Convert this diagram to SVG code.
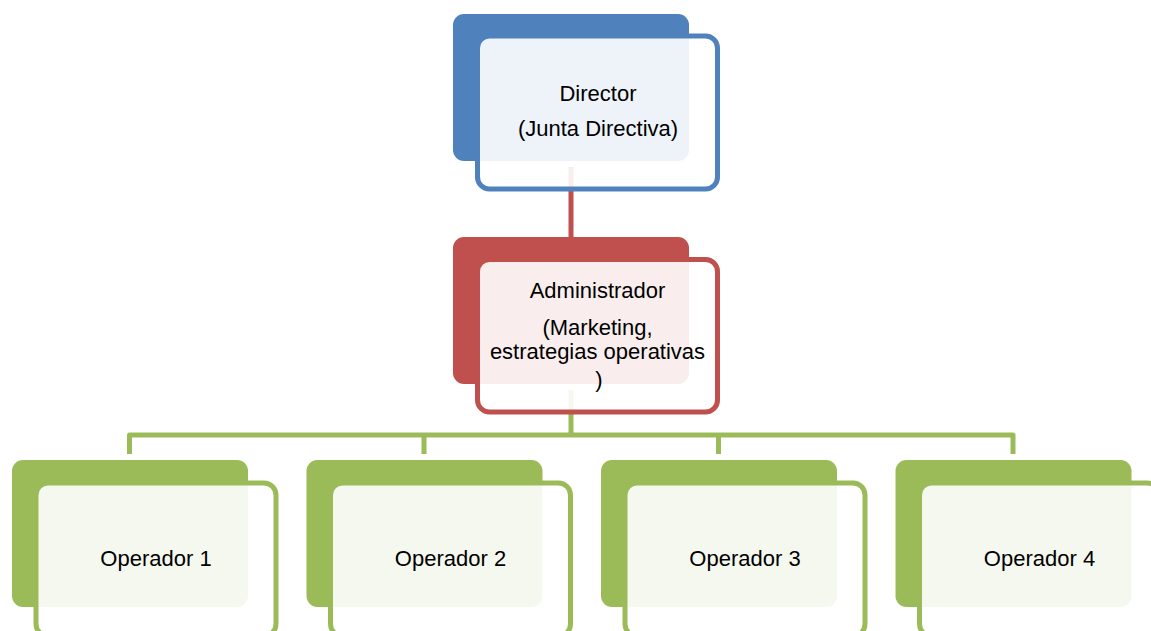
<svg xmlns="http://www.w3.org/2000/svg" width="1151" height="631" viewBox="0 0 1151 631">
<style>
.t{font-family:"Liberation Sans",Arial,sans-serif;font-size:22px;fill:#000;text-anchor:middle}
.front{fill:#fff;fill-opacity:0.9;stroke-width:5}
.conn{fill:none;stroke-width:5;stroke-linejoin:round}
.blue .back{fill:#4F81BD}.blue .front{stroke:#4F81BD}
.red .back{fill:#C0504D}.red .front{stroke:#C0504D}
.green .back{fill:#9BBB59}.green .front{stroke:#9BBB59}
</style>
<rect width="1151" height="631" fill="#fff"/>
<g id="connectors">
<line class="conn" x1="571" y1="167" x2="571" y2="238" stroke="#C0504D"/>
<path class="conn" d="M571,390 V435 M129.5,454 V435 H1013 V454 M424,435 V454 M718.5,435 V454" stroke="#9BBB59"/>
</g>
<g id="director" class="blue">
<rect class="back" x="453" y="14" width="236" height="147" rx="11"/>
<rect class="front" x="477.5" y="36" width="240" height="153" rx="12"/>
<text class="t" x="598" y="101">Director</text>
<text class="t" x="598" y="136">(Junta Directiva)</text>
</g>
<g id="administrador" class="red">
<rect class="back" x="453" y="237" width="236" height="147" rx="11"/>
<rect class="front" x="477.5" y="259.5" width="240" height="152.5" rx="12"/>
<text class="t" x="597.5" y="298">Administrador</text>
<text class="t" x="597.5" y="335">(Marketing,</text>
<text class="t" x="597.5" y="359">estrategias operativas</text>
<text class="t" x="599" y="387">)</text>
</g>
<g id="operador1" class="green">
<rect class="back" x="12" y="460" width="236" height="147" rx="11"/>
<rect class="front" x="36" y="483" width="240" height="153" rx="12"/>
<text class="t" x="156" y="566">Operador 1</text>
</g>
<g id="operador2" class="green">
<rect class="back" x="306.5" y="460" width="236" height="147" rx="11"/>
<rect class="front" x="330.5" y="483" width="240" height="153" rx="12"/>
<text class="t" x="450.5" y="566">Operador 2</text>
</g>
<g id="operador3" class="green">
<rect class="back" x="601" y="460" width="236" height="147" rx="11"/>
<rect class="front" x="625" y="483" width="240" height="153" rx="12"/>
<text class="t" x="745" y="566">Operador 3</text>
</g>
<g id="operador4" class="green">
<rect class="back" x="895.5" y="460" width="236" height="147" rx="11"/>
<rect class="front" x="919.5" y="483" width="240" height="153" rx="12"/>
<text class="t" x="1039.5" y="566">Operador 4</text>
</g>
</svg>
